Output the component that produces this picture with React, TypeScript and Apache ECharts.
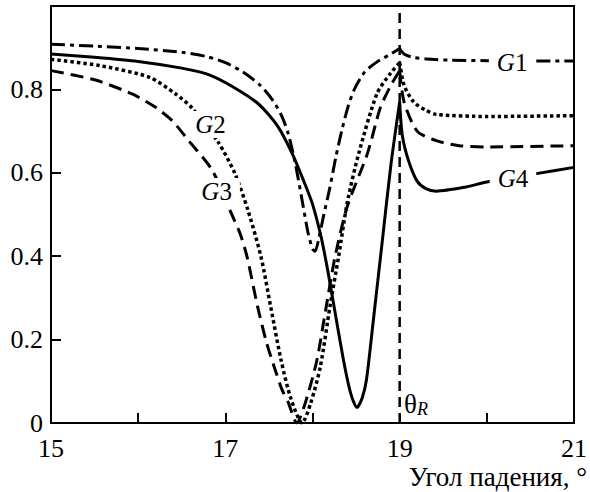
import React, { useEffect, useRef } from "react";
import * as echarts from "echarts";

// ---- data ----
const xMin = 15;
const xMax = 21;
const yMin = 0;
const yMax = 1;
const xLabeled = [15, 17, 19, 21];
const yLabeled = [0, 0.2, 0.4, 0.6, 0.8];
const resonanceAngle = 19;

const g1X = [15.0, 15.5, 16.0, 16.5, 16.8, 17.0, 17.2, 17.4, 17.55, 17.65, 17.72, 17.8, 17.88, 17.95, 18.0, 18.03, 18.07, 18.13, 18.2, 18.27, 18.34, 18.41, 18.48, 18.6, 18.74, 18.89, 19.0, 19.05, 19.15, 19.3, 19.6, 20.0, 21.0];
const g1Y = [0.908, 0.904, 0.898, 0.889, 0.878, 0.864, 0.842, 0.81, 0.772, 0.735, 0.695, 0.625, 0.535, 0.455, 0.418, 0.412, 0.44, 0.5, 0.565, 0.64, 0.705, 0.76, 0.8, 0.842, 0.866, 0.884, 0.898, 0.885, 0.877, 0.873, 0.87, 0.869, 0.868];

const g2X = [15.0, 15.56, 16.13, 16.43, 16.62, 16.92, 17.11, 17.26, 17.41, 17.52, 17.64, 17.75, 17.88, 17.98, 18.09, 18.2, 18.3, 18.4, 18.53, 18.74, 18.9, 19.0, 19.05, 19.16, 19.3, 19.42, 20.0, 21.0];
const g2Y = [0.872, 0.857, 0.829, 0.789, 0.755, 0.673, 0.598, 0.51, 0.398, 0.279, 0.15, 0.06, 0.0, 0.048, 0.135, 0.279, 0.4, 0.53, 0.646, 0.79, 0.84, 0.864, 0.81, 0.77, 0.75, 0.74, 0.735, 0.737];

const g3X = [15.0, 15.5, 15.93, 16.2, 16.39, 16.58, 16.85, 17.07, 17.17, 17.25, 17.37, 17.47, 17.56, 17.65, 17.72, 17.82, 17.92, 18.05, 18.15, 18.26, 18.4, 18.63, 18.78, 18.9, 19.0, 19.05, 19.2, 19.42, 19.68, 20.0, 21.0];
const g3Y = [0.845, 0.823, 0.789, 0.757, 0.725, 0.677, 0.606, 0.502, 0.454, 0.398, 0.279, 0.195, 0.135, 0.08, 0.05, 0.0, 0.05, 0.15, 0.27, 0.4, 0.52, 0.646, 0.757, 0.81, 0.845, 0.77, 0.7, 0.677, 0.665, 0.662, 0.665];

const g4X = [15.0, 15.5, 16.0, 16.5, 16.8, 17.07, 17.38, 17.6, 17.77, 17.9, 18.0, 18.1, 18.18, 18.28, 18.37, 18.44, 18.51, 18.57, 18.62, 18.7, 18.8, 18.9, 19.0, 19.03, 19.1, 19.2, 19.3, 19.42, 19.76, 20.0, 20.57, 21.0];
const g4Y = [0.885, 0.877, 0.867, 0.851, 0.836, 0.808, 0.765, 0.712, 0.645, 0.58, 0.525, 0.445, 0.36, 0.24, 0.135, 0.07, 0.037, 0.06, 0.105, 0.25, 0.435, 0.62, 0.77, 0.69, 0.63, 0.58, 0.562, 0.556, 0.566, 0.578, 0.598, 0.613];

// curve label anchors (data coordinates)
const labelNames = ["1", "2", "3", "4"];
const labelX = [20.29, 16.83, 16.9, 20.3];
const labelY = [0.864, 0.716, 0.555, 0.586];
const thetaLabelAt = [19.05, 0.045];

const FONT = '"Liberation Serif", "Times New Roman", serif';

function split(xs: number[], ys: number[]) {
  const left: number[][] = [];
  const right: number[][] = [];
  xs.forEach((x, i) => {
    if (x <= resonanceAngle) left.push([x, ys[i]]);
    if (x >= resonanceAngle) right.push([x, ys[i]]);
  });
  return [left, right];
}

export default function App() {
  const ref = useRef<HTMLDivElement>(null);
  useEffect(() => {
    document.body.style.margin = "0";
    if (!ref.current) return;
    const chart = echarts.init(ref.current, null, { renderer: "svg" });

    const curves = [
      { xs: g1X, ys: g1Y, type: [14, 5, 4, 5] as any, width: 3 },
      { xs: g2X, ys: g2Y, type: [3.5, 3] as any, width: 3.5 },
      { xs: g3X, ys: g3Y, type: [13, 7] as any, width: 3 },
      { xs: g4X, ys: g4Y, type: "solid" as any, width: 3 },
    ];

    const series: any[] = [];
    curves.forEach((c) => {
      split(c.xs, c.ys).forEach((part) => {
        series.push({
          type: "line",
          data: part,
          symbol: "none",
          smooth: 0.25,
          z: 2,
          silent: true,
          lineStyle: { color: "#000", width: c.width, type: c.type, cap: "butt", join: "round" },
        });
      });
    });

    series.push({
      type: "line",
      data: [
        [resonanceAngle, yMin],
        [resonanceAngle, yMax],
      ],
      symbol: "none",
      z: 1,
      silent: true,
      lineStyle: { color: "#000", width: 2.5, type: [10, 6] },
    });

    series.push({
      type: "scatter",
      symbolSize: 0,
      z: 10,
      silent: true,
      itemStyle: { color: "#000", opacity: 1 },
      data: labelNames.map((n, i) => ({ value: [labelX[i], labelY[i]], name: n })),
      label: {
        show: true,
        position: "inside",
        color: "#000",
        opacity: 1,
        textBorderWidth: 0,
        formatter: (p: any) => `{i|G}{n|${p.name}}`,
        backgroundColor: "#fff",
        padding: [1, 8, 1, 8],
        rich: {
          i: { fontFamily: FONT, fontSize: 25, fontStyle: "italic", color: "#000", textBorderWidth: 0 },
          n: { fontFamily: FONT, fontSize: 25, color: "#000", textBorderWidth: 0 },
        },
      },
    });

    series.push({
      type: "scatter",
      symbolSize: 0,
      z: 10,
      silent: true,
      itemStyle: { color: "#000", opacity: 1 },
      data: [thetaLabelAt],
      label: {
        show: true,
        position: "right",
        distance: 0,
        color: "#000",
        opacity: 1,
        textBorderWidth: 0,
        formatter: "{t|θ}{s|R}",
        rich: {
          t: { fontFamily: FONT, fontSize: 27, color: "#000" },
          s: { fontFamily: FONT, fontSize: 18, fontStyle: "italic", color: "#000", padding: [10, 0, 0, 0] },
        },
      },
    });

    chart.setOption({
      animation: false,
      backgroundColor: "#fff",
      grid: {
        left: 51,
        right: 9,
        top: 6,
        bottom: 69,
        show: true,
        borderColor: "#000",
        borderWidth: 2,
      },
      xAxis: {
        type: "value",
        min: xMin,
        max: xMax,
        interval: 1,
        axisLine: { lineStyle: { color: "#000", width: 2 } },
        axisTick: { inside: true, length: 10, lineStyle: { color: "#000", width: 2 } },
        splitLine: { show: false },
        axisLabel: {
          margin: 12,
          color: "#000",
          fontFamily: FONT,
          fontSize: 26,
          showMaxLabel: true,
          showMinLabel: true,
          formatter: (v: number) => (xLabeled.includes(v) ? String(v) : ""),
        },
      },
      yAxis: {
        type: "value",
        min: yMin,
        max: yMax,
        interval: 0.2,
        axisLine: { lineStyle: { color: "#000", width: 2 } },
        axisTick: { inside: true, length: 10, lineStyle: { color: "#000", width: 2 } },
        splitLine: { show: false },
        axisLabel: {
          margin: 8,
          color: "#000",
          fontFamily: FONT,
          fontSize: 26,
          formatter: (v: number) => {
            const r = Math.round(v * 10) / 10;
            return yLabeled.some((t) => Math.abs(t - r) < 1e-6) ? (r === 0 ? "0" : r.toFixed(1)) : "";
          },
        },
      },
      graphic: [
        {
          type: "text",
          right: 3,
          top: 463,
          style: { text: "Угол падения, °", font: `27px ${FONT}`, fill: "#000" },
        },
      ],
      series,
    });

    return () => chart.dispose();
  }, []);
  return <div ref={ref} style={{ width: 590, height: 492 }} />;
}
